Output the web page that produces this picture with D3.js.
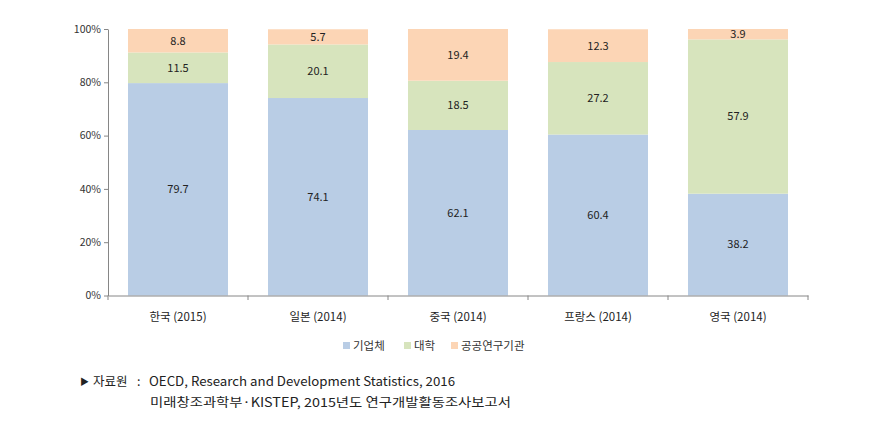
<!DOCTYPE html>
<html><head><meta charset="utf-8">
<script src="https://cdn.jsdelivr.net/npm/d3@7"></script>
<style>body{margin:0;background:#fff}svg{display:block}</style>
</head><body><svg id="c" width="876" height="428"></svg>
<script>
const categories = ["한국 (2015)", "일본 (2014)", "중국 (2014)", "프랑스 (2014)", "영국 (2014)"];
const seriesNames = ["기업체", "대학", "공공연구기관"];
const business = [79.7, 74.1, 62.1, 60.4, 38.2];
const university = [11.5, 20.1, 18.5, 27.2, 57.9];
const publicInst = [8.8, 5.7, 19.4, 12.3, 3.9];
const yTicks = [0, 20, 40, 60, 80, 100];
const colors = ["#b9cde5", "#d7e4bd", "#fcd5b5"];
const sourceLines = ["OECD, Research and Development Statistics, 2016", "미래창조과학부·KISTEP, 2015년도 연구개발활동조사보고서"];

const svg = d3.select("#c");
const font = "'Noto Sans CJK KR', 'Noto Sans', sans-serif";
const x = d3.scaleBand().domain(categories).range([108, 808]).paddingInner(0.2857).paddingOuter(0.1428);
const y = d3.scaleLinear().domain([0, 100]).range([295.5, 29]);

const rows = categories.map((c, i) => ({cat: c, s0: business[i], s1: university[i], s2: publicInst[i]}));
const stack = d3.stack().keys(["s0", "s1", "s2"])(rows);

stack.forEach((layer, li) => {
  const g = svg.append("g");
  g.selectAll("rect").data(layer).join("rect")
    .attr("x", d => x(d.data.cat))
    .attr("width", x.bandwidth())
    .attr("y", d => y(Math.min(100, d[1])))
    .attr("height", d => y(d[0]) - y(Math.min(100, d[1])))
    .attr("fill", colors[li]);
  g.selectAll("text").data(layer).join("text")
    .attr("x", d => x(d.data.cat) + x.bandwidth() / 2)
    .attr("y", d => (y(d[0]) + y(Math.min(100, d[1]))) / 2)
    .attr("dy", "0.35em")
    .attr("text-anchor", "middle")
    .attr("font-family", font).attr("font-size", 11).attr("fill", "#222")
    .text(d => (d[1] - d[0]).toFixed(1));
});

// y axis
const ya = svg.append("g").attr("transform", "translate(108,0)")
  .call(d3.axisLeft(y).tickValues(yTicks).tickFormat(d => d + "%").tickSize(4).tickSizeOuter(0));
ya.select(".domain").attr("stroke", "#868686");
ya.selectAll(".tick line").attr("stroke", "#868686");
ya.selectAll("text").attr("font-family", font).attr("font-size", 10.5).attr("fill", "#333").attr("x", -7);

// x axis
const xa = svg.append("g").attr("transform", "translate(0,295.5)")
  .call(d3.axisBottom(x).tickSize(0).tickSizeOuter(0));
xa.select(".domain").attr("stroke", "#868686");
xa.selectAll("text").attr("font-family", font).attr("font-size", 11.5).attr("fill", "#222").attr("y", 17);
const step = x.step();
const bounds = d3.range(categories.length + 1).map(i => 108 + i * step);
svg.append("g").selectAll("line").data(bounds).join("line")
  .attr("x1", d => d).attr("x2", d => d).attr("y1", 295.5).attr("y2", 300)
  .attr("stroke", "#868686");

// legend
const legendX = [343, 404, 451];
const lg = svg.append("g");
seriesNames.forEach((n, i) => {
  lg.append("rect").attr("x", legendX[i]).attr("y", 342).attr("width", 7).attr("height", 7).attr("fill", colors[i]);
  lg.append("text").attr("x", legendX[i] + 10).attr("y", 346).attr("dy", "0.35em")
    .attr("font-family", font).attr("font-size", 11.5).attr("fill", "#333").text(n);
});

// source note
const note = svg.append("g").attr("font-family", font).attr("fill", "#222").attr("font-size", 12.5);
note.append("text").attr("x", 80).attr("y", 385).attr("font-size", 9).text("▶");
note.append("text").attr("x", 93).attr("y", 386).text("자료원");
note.append("text").attr("x", 137).attr("y", 386).text(":");
note.append("text").attr("x", 149).attr("y", 386).attr("textLength", 306).attr("lengthAdjust", "spacingAndGlyphs").text(sourceLines[0]);
note.append("text").attr("x", 150).attr("y", 407).attr("textLength", 361).attr("lengthAdjust", "spacingAndGlyphs").text(sourceLines[1]);
</script></body></html>
